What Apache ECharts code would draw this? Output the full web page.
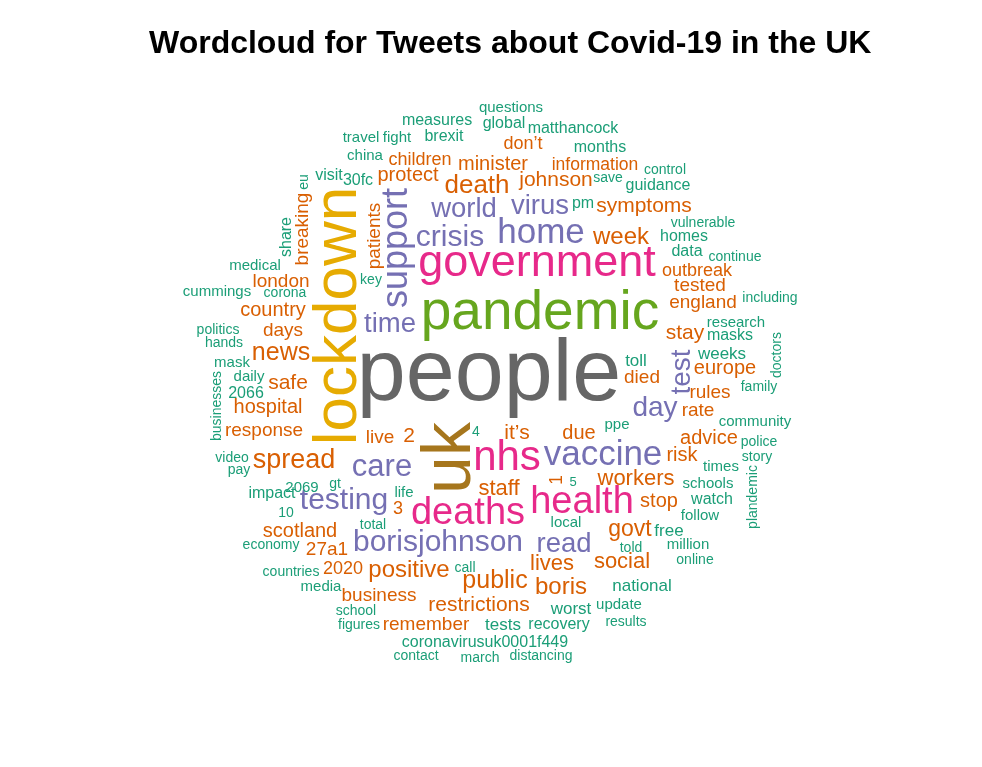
<!DOCTYPE html>
<html>
<head>
<meta charset="utf-8">
<script src="https://cdn.jsdelivr.net/npm/echarts@6/dist/echarts.min.js"></script>
<style>
  html, body { margin: 0; background: #fff; }
  #chart { width: 982px; height: 767px; }
</style>
</head>
<body>
<div id="chart"></div>
<script>
// word list, relative weight (drives size + colour bin) and where the word sits in the cloud
const words = [
  'people', 'pandemic', 'lockdown', 'uk', 'government', 'nhs', 'health', 'deaths',
  'vaccine', 'home', 'support', 'borisjohnson', 'testing', 'care', 'crisis', 'world',
  'virus', 'time', 'day', 'test', 'read',
  'spread', 'death', 'news', 'week', 'boris', 'positive', 'public', 'symptoms', 'johnson',
  'lives', 'staff', 'workers', 'govt', 'social', 'stop', 'restrictions', 'remember',
  'business', '2020', '27a1', 'scotland', '3', 'live', '2', 'it’s', 'due', '1', 'died',
  'europe', 'stay', 'england', 'tested', 'outbreak', 'information', 'don’t', 'minister',
  'children', 'protect', 'breaking', 'london', 'country', 'days', 'safe', 'hospital',
  'response', 'patients', 'rules', 'rate', 'risk', 'advice',
  'life', 'total', '4', 'ppe', '5', 'toll', 'weeks', 'masks', 'research', 'including',
  'data', 'continue', 'homes', 'vulnerable', 'guidance', 'control', 'save', 'pm', 'months',
  'matthancock', 'global', 'questions', 'measures', 'brexit', 'fight', 'travel', 'china',
  '30fc', 'visit', 'eu', 'share', 'medical', 'cummings', 'corona', 'politics', 'hands',
  'mask', 'daily', '2066', 'businesses', 'video', 'pay', '2069', 'gt', 'impact', '10',
  'economy', 'countries', 'media', 'school', 'figures', 'call', 'coronavirusuk0001f449',
  'contact', 'march', 'distancing', 'tests', 'recovery', 'worst', 'update', 'results',
  'national', 'free', 'told', 'local', 'million', 'online', 'follow', 'watch', 'schools',
  'times', 'police', 'story', 'plandemic', 'community', 'family', 'doctors', 'key'
]

const weights = [
  88, 55, 62, 68, 45, 42, 38, 38,
  35, 35, 36, 30, 30, 31, 30, 27.5,
  27.5, 27.5, 28, 28, 27.5,
  27, 26, 25, 24, 24, 24, 25, 21, 21,
  22, 22, 22, 23, 22, 20, 21, 19,
  19, 18, 19, 20, 18, 19, 21, 21, 20, 17.5, 19,
  20, 21, 19, 19, 18, 17.5, 18, 20,
  18, 20, 19, 19, 20, 19, 21, 20,
  19, 19, 19, 19, 20, 20,
  15, 14, 14, 15, 13, 17, 17, 16, 15, 14,
  16, 14, 16, 14, 16, 14, 14, 16, 16,
  16, 16, 15, 16, 16, 15, 15, 15,
  16, 16, 14, 16, 15, 15, 14, 14, 14,
  15, 15, 16, 14, 14, 14, 15, 14, 16, 14,
  14, 14, 15, 14, 14, 14, 16,
  14, 14, 14, 17, 16, 17, 15, 14,
  17, 17, 14, 15, 15, 14, 15, 16, 15,
  15, 14, 14, 14, 15, 14, 14, 14
]

const cloudX = [
  489, 540, 339, 451, 537, 507, 582, 468,
  603, 541, 397, 438, 344, 382, 450, 464,
  540, 390, 655, 682, 564,
  294, 477, 281, 621, 561, 409, 495, 644, 556,
  552, 499, 636, 630, 622, 659, 479, 426,
  379, 343, 327, 300, 398, 380, 409, 517, 579, 557, 642,
  725, 685, 703, 700, 697, 595, 523, 493,
  420, 408, 303, 281, 273, 283, 288, 268,
  264, 375, 710, 698, 682, 709,
  404, 373, 476, 617, 573, 636, 722, 730, 736, 770,
  687, 735, 684, 703, 658, 665, 608, 583, 600,
  573, 504, 511, 437, 444, 397, 361, 365,
  358, 329, 304, 287, 255, 217, 285, 218, 224,
  232, 249, 246, 217, 232, 239, 302, 335, 272, 286,
  271, 291, 321, 356, 359, 465, 485,
  416, 480, 541, 503, 559, 571, 619, 626,
  642, 669, 631, 566, 688, 695, 700, 712, 708,
  721, 759, 757, 753, 755, 759, 777, 371
]

const cloudY = [
  376, 314, 316, 458, 264, 458, 503, 514,
  455, 233, 248, 543, 501, 467, 238, 209,
  206, 324, 408, 372, 544,
  461, 186, 353, 237, 587, 570, 581, 206, 180,
  564, 489, 479, 530, 562, 501, 605, 625,
  596, 569, 550, 531, 509, 438, 436, 433, 433, 480, 378,
  368, 333, 303, 286, 271, 165, 144, 164,
  160, 175, 229, 282, 310, 331, 383, 407,
  431, 236, 393, 411, 455, 438,
  493, 525, 432, 425, 482, 361, 354, 336, 323, 298,
  252, 257, 237, 223, 186, 170, 178, 204, 148,
  129, 124, 108, 121, 137, 138, 138, 156,
  181, 176, 182, 237, 266, 292, 293, 330, 343,
  363, 377, 394, 406, 458, 470, 488, 484, 494, 513,
  545, 572, 587, 611, 625, 568, 643,
  656, 658, 656, 625, 625, 609, 605, 622,
  586, 531, 548, 523, 545, 560, 516, 500, 484,
  467, 442, 457, 497, 422, 387, 355, 280
]

const verticalWords = ['lockdown', 'uk', 'support', 'test', '1', 'breaking', 'patients',
  'eu', 'share', 'businesses', 'plandemic', 'doctors']

// Dark2 palette, binned by weight like R's wordcloud
function colorFor(w) {
  if (w >= 80) return '#666666'
  if (w >= 65) return '#A6761D'
  if (w >= 58) return '#E6AB02'
  if (w >= 50) return '#66A61E'
  if (w >= 37) return '#E7298A'
  if (w >= 27.5) return '#7570B3'
  if (w >= 17.5) return '#D95F02'
  return '#1B9E77'
}

const chart = echarts.init(document.getElementById('chart'))

const cloudData = words.map((w, i) => ({
  name: w,
  value: [cloudX[i], cloudY[i]],
  label: {
    fontSize: weights[i],
    color: colorFor(weights[i]),
    rotate: verticalWords.includes(w) ? 90 : 0
  }
}))

chart.setOption({
  animation: false,
  backgroundColor: '#ffffff',
  title: {
    text: 'Wordcloud for Tweets about Covid-19 in the UK',
    left: 144,
    top: 23,
    textStyle: {
      fontFamily: 'Liberation Sans, Arial, sans-serif',
      fontSize: 32,
      fontWeight: 'bold',
      color: '#000'
    }
  },
  grid: { left: 0, right: 0, top: 0, bottom: 0 },
  xAxis: { type: 'value', min: 0, max: 982, show: false },
  yAxis: { type: 'value', min: 0, max: 767, inverse: true, show: false },
  series: [{
    type: 'scatter',
    silent: true,
    symbolSize: 0,
    itemStyle: { opacity: 1 },
    label: {
      show: true,
      position: 'inside',
      formatter: '{b}',
      fontFamily: 'Liberation Sans, Arial, sans-serif',
      align: 'center',
      verticalAlign: 'middle'
    },
    data: cloudData
  }]
})
</script>
</body>
</html>
